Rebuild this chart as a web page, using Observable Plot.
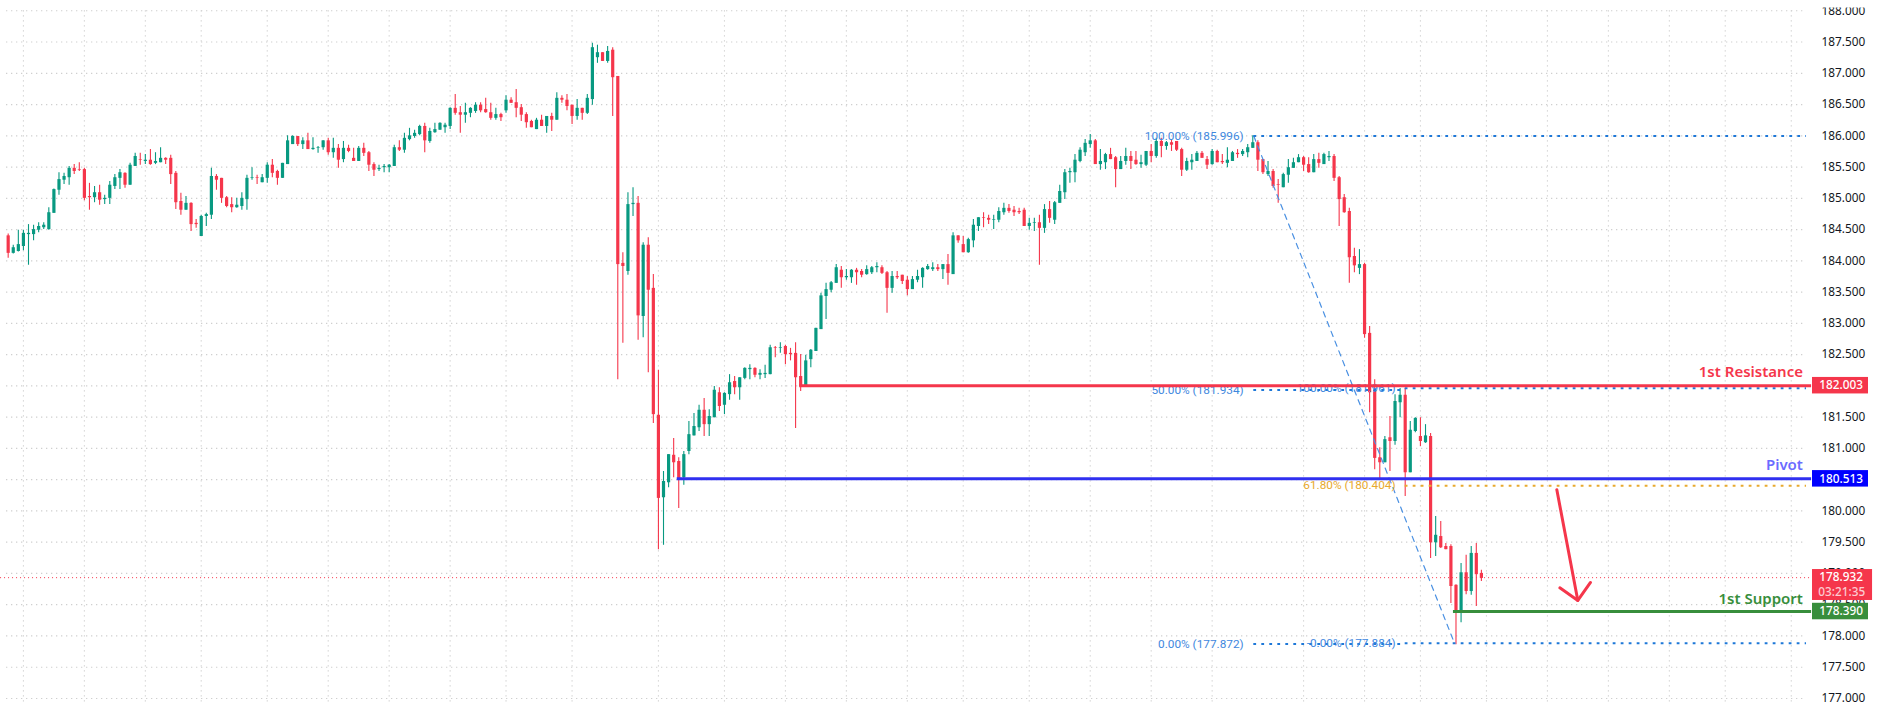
<!DOCTYPE html>
<html><head><meta charset="utf-8">
<style>html,body{margin:0;padding:0;background:#fff;overflow:hidden}svg{display:block}</style>
<script src="https://cdn.jsdelivr.net/npm/d3@7"></script>
<script src="https://cdn.jsdelivr.net/npm/@observablehq/plot@0.6"></script>
</head><body><div id="chart"></div>
<script>
const direction = ("RGGGGGGGGG"+"GGGRRRRGRG"+"GGGRGGRGRG"+"GRRRRGRRGG"+"GRRRRGGGGR"+"GGRRGGGRGR"+"GGGRGRGRRG"+"RRRGGGGRGG"+"GGRGGGGGRR"+"GGGRRRGRGR"+
"RRRRGRGRGR"+"RRGRGGGRGR"+"RRGGRGRRRG"+"GRRGGGGRGG"+"RGGRGGGRGG"+"GRGRRRRGGG"+"GGGGRGGRRG"+"GGRRGRRRGG"+"GGGRGRGRRG"+"GGRRGGGRRR"+
"RGGRGRGGGG"+"GGGGRGGRRG"+"GRRGGRGRGR"+"RRGGGRRGRR"+"GGRGGGRRGR"+"RGGGGRRGRG"+"GRRRRRGRRR"+"RGRGGRGGRG"+"RGRRRRGRGRR").split("");
const high = [
184.43,184.25,184.49,184.49,184.58,184.57,184.61,184.61,184.85,185.15,
185.41,185.40,185.51,185.54,185.57,185.48,185.24,185.19,185.21,185.05,
185.27,185.38,185.46,185.41,185.56,185.72,185.72,185.70,185.78,185.73,
185.81,185.65,185.69,185.43,185.08,185.03,184.93,184.66,184.73,184.76,
185.48,185.38,185.32,185.03,185.01,185.00,185.09,185.37,185.49,185.37,
185.38,185.57,185.62,185.45,185.56,186.00,186.00,185.99,185.97,186.04,
185.97,185.83,185.92,185.96,185.96,185.86,185.91,185.85,185.80,185.83,
185.88,185.75,185.57,185.53,185.54,185.54,185.85,185.92,186.04,186.12,
186.09,186.17,186.20,186.12,186.20,186.21,186.20,186.45,186.66,186.47,
186.52,186.45,186.53,186.53,186.60,186.52,186.44,186.36,186.64,186.61,
186.74,186.50,186.37,186.25,186.28,186.33,186.31,186.36,186.69,186.64,
186.66,186.49,186.58,186.44,186.66,187.48,187.45,187.33,187.43,187.41,
186.95,184.13,185.09,185.17,185.03,184.29,184.37,183.78,182.25,180.63,
180.90,181.16,180.85,180.95,181.43,181.56,181.69,181.80,181.62,181.99,
181.97,181.89,182.18,182.15,182.13,182.29,182.34,182.29,182.26,182.33,
182.65,182.63,182.69,182.65,182.60,182.69,182.50,182.49,182.58,182.92,
183.48,183.64,183.67,183.94,183.91,183.86,183.86,183.88,183.86,183.92,
183.91,183.97,183.92,183.83,183.83,183.83,183.77,183.75,183.75,183.85,
183.89,183.94,183.97,183.94,183.94,184.10,184.45,184.40,184.39,184.36,
184.66,184.69,184.77,184.73,184.73,184.85,184.92,184.90,184.87,184.84,
184.84,184.68,184.68,184.73,184.90,184.95,184.95,185.21,185.46,185.48,
185.70,185.81,185.94,186.02,185.94,185.78,185.72,185.80,185.67,185.67,
185.80,185.75,185.75,185.69,185.75,185.86,185.96,185.96,185.91,185.94,
185.91,185.80,185.64,185.70,185.75,185.75,185.67,185.78,185.77,185.70,
185.81,185.75,185.78,185.78,185.86,186.00,185.92,185.62,185.59,185.46,
185.30,185.40,185.62,185.64,185.70,185.67,185.65,185.70,185.72,185.72,
185.75,185.70,185.35,185.06,184.84,184.20,184.18,183.96,182.95,182.10,
181.01,181.19,181.51,181.86,181.96,181.96,181.43,181.49,181.49,181.38,
181.24,179.91,179.83,179.48,179.46,178.82,179.16,179.29,179.43,179.48,179.05];
const bodyTop = [
184.40,184.21,184.26,184.44,184.44,184.50,184.55,184.57,184.77,185.14,
185.30,185.35,185.48,185.48,185.46,185.46,185.03,185.09,185.09,185.00,
185.21,185.33,185.41,185.40,185.53,185.67,185.62,185.61,185.61,185.59,
185.64,185.64,185.64,185.40,184.95,184.92,184.92,184.60,184.71,184.74,
185.35,185.35,185.32,185.01,184.90,184.89,185.00,185.32,185.33,185.33,
185.33,185.53,185.53,185.43,185.56,185.92,185.99,185.99,185.92,185.92,
185.80,185.81,185.92,185.92,185.80,185.80,185.80,185.80,185.64,185.80,
185.80,185.73,185.54,185.48,185.51,185.53,185.81,185.81,185.96,186.00,
186.04,186.15,186.15,186.07,186.10,186.20,186.17,186.44,186.44,186.37,
186.37,186.44,186.49,186.49,186.42,186.37,186.34,186.34,186.57,186.57,
186.53,186.45,186.34,186.23,186.25,186.25,186.31,186.31,186.60,186.60,
186.57,186.49,186.44,186.44,186.60,187.41,187.33,187.33,187.35,187.37,
186.95,183.96,184.90,184.92,184.92,184.25,184.25,183.56,181.53,180.47,
180.90,180.89,180.79,180.90,181.22,181.35,181.61,181.61,181.51,181.93,
181.89,181.88,182.05,182.07,182.13,182.28,182.28,182.28,182.20,182.20,
182.61,182.61,182.61,182.63,182.52,182.52,182.15,182.40,182.57,182.92,
183.44,183.54,183.65,183.89,183.85,183.75,183.85,183.85,183.83,183.86,
183.89,183.91,183.89,183.81,183.75,183.75,183.77,183.69,183.70,183.75,
183.88,183.91,183.89,183.89,183.94,183.94,184.40,184.40,184.26,184.34,
184.57,184.69,184.69,184.68,184.66,184.79,184.84,184.84,184.81,184.79,
184.81,184.60,184.61,184.61,184.82,184.82,184.93,185.11,185.41,185.43,
185.61,185.77,185.88,185.92,185.92,185.59,185.70,185.70,185.65,185.59,
185.67,185.67,185.61,185.57,185.75,185.75,185.91,185.91,185.89,185.89,
185.91,185.78,185.59,185.61,185.72,185.72,185.62,185.75,185.75,185.59,
185.61,185.73,185.72,185.75,185.81,185.89,185.89,185.62,185.43,185.43,
185.22,185.38,185.49,185.57,185.65,185.65,185.54,185.62,185.62,185.70,
185.67,185.67,185.33,185.01,184.79,184.07,183.94,183.94,182.84,181.93,
180.85,181.14,181.17,181.75,181.85,181.85,181.29,181.48,181.19,181.20,
181.19,179.61,179.59,179.43,179.43,178.81,179.01,179.01,179.32,179.32,179.00];
const bodyBottom = [
184.12,184.12,184.15,184.23,184.42,184.42,184.49,184.53,184.50,184.76,
185.13,185.29,185.33,185.43,185.45,185.00,185.01,185.01,184.97,184.98,
185.00,185.19,185.32,185.21,185.21,185.51,185.61,185.59,185.54,185.56,
185.57,185.61,185.38,184.93,184.81,184.81,184.58,184.58,184.39,184.71,
184.73,185.29,185.00,184.87,184.85,184.85,184.87,184.98,185.32,185.32,
185.25,185.32,185.40,185.32,185.32,185.54,185.86,185.86,185.86,185.78,
185.78,185.80,185.81,185.73,185.73,185.61,185.62,185.75,185.59,185.59,
185.72,185.53,185.45,185.46,185.49,185.49,185.51,185.77,185.77,185.94,
185.99,186.02,185.92,185.91,186.05,186.09,186.13,186.15,186.36,186.33,
186.33,186.36,186.39,186.40,186.37,186.28,186.28,186.29,186.40,186.52,
186.44,186.33,186.21,186.13,186.10,186.15,186.15,186.25,186.25,186.57,
186.47,186.31,186.31,186.36,186.36,186.58,187.25,187.19,187.19,186.93,
183.94,183.91,183.83,184.90,183.12,183.11,183.53,181.54,180.20,180.21,
180.45,180.77,180.49,180.53,180.95,181.20,181.33,181.38,181.38,181.49,
181.67,181.69,181.86,181.97,181.97,182.12,182.26,182.17,182.17,182.18,
182.18,182.60,182.60,182.50,182.50,182.13,181.99,181.99,182.42,182.55,
182.90,183.43,183.53,183.64,183.73,183.73,183.73,183.81,183.77,183.78,
183.81,183.89,183.80,183.56,183.56,183.73,183.67,183.54,183.54,183.69,
183.73,183.86,183.86,183.86,183.86,183.80,183.78,184.32,184.13,184.13,
184.32,184.55,184.68,184.65,184.65,184.65,184.77,184.79,184.77,184.77,
184.55,184.55,184.60,184.52,184.52,184.68,184.65,184.92,185.09,185.41,
185.41,185.59,185.73,185.86,185.54,185.54,185.57,185.62,185.46,185.46,
185.59,185.59,185.54,185.54,185.53,185.67,185.67,185.83,185.83,185.85,
185.77,185.45,185.45,185.57,185.59,185.64,185.53,185.54,185.57,185.57,
185.56,185.59,185.70,185.70,185.73,185.80,185.61,185.41,185.38,185.19,
185.21,185.17,185.37,185.48,185.57,185.53,185.41,185.41,185.56,185.54,
185.65,185.32,184.98,184.77,184.05,183.92,183.88,182.82,181.89,180.84,
180.77,180.77,181.11,181.11,181.73,180.61,180.61,181.27,181.11,181.09,
179.49,179.49,179.41,179.38,178.79,178.39,178.39,178.71,178.71,178.98,178.92];
const low = [
184.04,184.11,184.14,184.16,183.93,184.32,184.45,184.50,184.49,184.76,
185.05,185.22,185.21,185.38,185.43,184.96,184.81,184.93,184.89,184.90,
184.90,185.14,185.14,185.16,185.21,185.51,185.53,185.54,185.53,185.54,
185.57,185.54,185.22,184.82,184.73,184.81,184.47,184.52,184.39,184.55,
184.66,185.13,184.92,184.85,184.77,184.84,184.81,184.81,185.29,185.22,
185.25,185.24,185.33,185.21,185.32,185.54,185.86,185.83,185.78,185.78,
185.77,185.72,185.77,185.69,185.64,185.48,185.57,185.73,185.59,185.59,
185.67,185.43,185.35,185.43,185.41,185.41,185.51,185.75,185.72,185.92,
185.96,186.00,185.73,185.88,186.04,186.09,186.04,186.10,186.33,186.04,
186.20,186.29,186.36,186.37,186.36,186.25,186.25,186.23,186.36,186.52,
186.29,186.23,186.12,186.13,186.10,186.15,186.04,186.07,186.25,186.52,
186.40,186.18,186.25,186.25,186.34,186.49,187.16,187.19,187.16,186.31,
182.10,182.68,183.77,184.71,182.73,182.77,182.21,181.40,179.38,179.45,
180.37,180.53,180.04,180.41,180.90,181.20,181.27,181.19,181.19,181.49,
181.59,181.54,181.77,181.86,181.77,182.10,182.10,182.13,182.10,182.12,
182.18,182.45,182.52,182.34,182.40,181.32,181.91,181.99,182.29,182.55,
182.90,183.06,183.49,183.64,183.56,183.69,183.64,183.61,183.73,183.77,
183.78,183.81,183.78,183.16,183.48,183.70,183.62,183.44,183.54,183.65,
183.56,183.85,183.83,183.83,183.70,183.61,183.78,184.28,184.13,184.12,
184.21,184.47,184.53,184.58,184.50,184.61,184.73,184.76,184.71,184.74,
184.55,184.49,184.47,183.93,184.44,184.60,184.58,184.92,184.98,185.24,
185.25,185.57,185.67,185.80,185.54,185.45,185.46,185.62,185.17,185.46,
185.53,185.46,185.53,185.48,185.51,185.57,185.64,185.65,185.77,185.75,
185.75,185.35,185.43,185.45,185.59,185.64,185.46,185.53,185.57,185.54,
185.49,185.59,185.64,185.67,185.65,185.80,185.43,185.38,185.35,185.16,
184.92,185.17,185.24,185.48,185.57,185.43,185.40,185.41,185.48,185.54,
185.59,185.27,184.55,184.76,183.64,183.81,183.78,182.76,181.57,180.66,
180.52,180.77,180.63,181.05,181.49,180.23,180.61,181.25,181.03,181.08,
179.24,179.27,179.40,179.38,178.52,177.86,178.21,178.66,178.65,178.47,178.87];

const RED="#f5364b", GREEN="#089981", SUP="#388e3c", PIV="#3030f0", FIB="#1e78d8", FIBTXT="#3f88de", ORG="#e8a92e";
const candles = high.map((h,k)=>({i:k+1,h,l:low[k],t:bodyTop[k],b:bodyBottom[k],c:direction[k]==="G"?GREEN:RED}));
const priceTicks = d3.range(177,188.01,0.5);
const gridX = [4,16,28,39,52,64,76,88,99,112,129,142,154,166,178,189,202,214,226,238,256,268,279,292,304,316,328,339,352];
const levels = [
 {name:"1st Resistance",price:182.003,from:156.8,color:RED,text:RED,pill:RED,labelPrice:182.22},
 {name:"Pivot",price:180.513,from:132.7,color:PIV,text:"#6b6bff",pill:"#0000ff",labelPrice:180.726},
 {name:"1st Support",price:178.390,from:285.5,color:SUP,text:SUP,pill:SUP,labelPrice:178.594}
];
const END=355, LINE_END=356;
const fibLines = [
 {price:185.996,from:246.2,to:END,color:FIB},{price:181.934,from:246.2,to:276,color:FIB},{price:177.872,from:246.2,to:276,color:FIB},
 {price:181.961,from:276,to:END,color:FIB},{price:177.884,from:276,to:END,color:FIB},{price:180.404,from:276,to:END,color:ORG}
];
const fibLabels = [
 {t:"100.00% (185.996)",x:244.2,y:185.996,c:FIBTXT},{t:"50.00% (181.934)",x:244.2,y:181.934,c:FIBTXT},{t:"0.00% (177.872)",x:244.2,y:177.872,c:FIBTXT},
 {t:"100.00% (181.961)",x:274.1,y:181.961,c:FIBTXT},{t:"61.80% (180.404)",x:274.1,y:180.404,c:ORG},{t:"-0.00% (177.884)",x:274.1,y:177.884,c:FIBTXT}
];
const lastPrice = 178.932, countdown = "03:21:35";
const fibDiagonal = [{i:246.2,p:185.996},{i:285.7,p:177.884}];
const arrowShaft = [{i:305.85,p:180.338},{i:309.98,p:178.567}];
const arrowHead = [{i:306.44,p:178.77},{i:309.98,p:178.567},{i:312.48,p:178.855}];

const chart = Plot.plot({
  width:1879,height:711,marginLeft:0,marginRight:58,marginTop:0,marginBottom:0,
  style:{background:"#fff",fontFamily:"'Noto Sans',sans-serif"},
  x:{domain:[-0.5118,357.95],range:[0,1821],axis:null},
  y:{domain:[176.791,188.165],range:[711,0]},
  marks:[
    Plot.ruleY(priceTicks,{y:d=>d,x1:0.67,x2:END,stroke:"#cfcfcf",strokeWidth:1.1,strokeDasharray:"1.3,3.7"}),
    Plot.ruleX(gridX,{x:d=>d,y1:188,y2:176.89,stroke:"#cfcfcf",strokeWidth:1.1,strokeDasharray:"1.3,3.7"}),
    Plot.axisY(priceTicks,{anchor:"right",tickSize:0,tickPadding:0,label:null,tickFormat:d=>d.toFixed(3),fontSize:11.8,fill:"#131722"}),
    Plot.ruleY([lastPrice],{x1:-0.5,x2:356,stroke:RED,strokeWidth:1,strokeDasharray:"1,3"}),
    Plot.ruleX(candles,{x:"i",y1:"h",y2:"l",stroke:"c",strokeWidth:1.1}),
    Plot.ruleX(candles,{x:"i",y1:"t",y2:"b",stroke:"c",strokeWidth:3.2}),
    Plot.line(fibDiagonal,{x:"i",y:"p",stroke:"#4a90e2",strokeWidth:1.2,strokeDasharray:"5.5,5"}),
    Plot.ruleY(fibLines,{y:"price",x1:"from",x2:"to",stroke:"color",strokeWidth:2,strokeDasharray:"2.8,5.2"}),
    Plot.text(fibLabels,{x:"x",y:"y",text:"t",fill:"c",textAnchor:"end",fontSize:11.8,fontFamily:"Roboto"}),
    Plot.ruleY(levels,{y:"price",x1:"from",x2:LINE_END,stroke:"color",strokeWidth:3}),
    Plot.text(levels,{x:354.3,y:"labelPrice",text:"name",fill:"text",textAnchor:"end",fontSize:15,fontWeight:600}),
    Plot.rect(levels,{x1:356.18,x2:367.2,y1:d=>d.price-0.132,y2:d=>d.price+0.132,fill:"pill"}),
    Plot.text(levels,{x:361.8,y:"price",text:d=>d.price.toFixed(3),fill:"#fff",fontSize:11.8,fontWeight:500}),
    Plot.rect([lastPrice],{x1:356.18,x2:368,y1:178.567,y2:179.062,fill:RED}),
    Plot.text([lastPrice],{x:361.8,y:d=>d,text:d=>d.toFixed(3),fill:"#fff",fontSize:11.8,fontWeight:500}),
    Plot.text([countdown],{x:361.95,y:178.70,text:d=>d,fill:"#fff",fillOpacity:0.75,fontSize:11.8,fontWeight:500}),
    Plot.line(arrowShaft,{x:"i",y:"p",stroke:RED,strokeWidth:3}),
    Plot.line(arrowHead,{x:"i",y:"p",stroke:RED,strokeWidth:3}),
    Plot.rect([0],{x1:-0.5118,x2:369,y1:188.045,y2:188.165,fill:"#fff"})
  ]
});
document.getElementById("chart").appendChild(chart);
</script></body></html>
